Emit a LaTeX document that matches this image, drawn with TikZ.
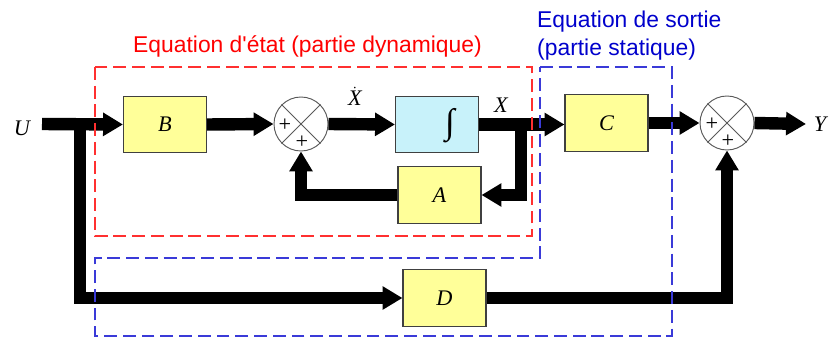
\documentclass[tikz,border=0pt]{standalone}
\usepackage{fontspec}
\setmainfont{Liberation Serif}
\newfontfamily\lsans{Liberation Sans}
\usetikzlibrary{arrows.meta}
\definecolor{boxyellow}{HTML}{FFFF99}
\definecolor{boxcyan}{HTML}{C8F2FA}
\definecolor{dashred}{HTML}{FF3030}
\definecolor{dashblue}{HTML}{3A3AD8}
\begin{document}
\begin{tikzpicture}[x=0.03cm,y=-0.03cm,
  blk/.style={draw=black!75, line width=0.9pt, fill=boxyellow, minimum width=2.49cm, minimum height=1.69cm, inner sep=0pt, font=\fontsize{19}{22}\selectfont\itshape},
  sumnode/.style={circle, draw=black!65, line width=0.8pt, fill=white, minimum size=1.62cm, inner sep=0pt},
  flow/.style={line width=10.6pt, line join=miter, -{Triangle[width=19pt,length=17pt]}},
  lbl/.style={font=\fontsize{19}{22}\selectfont\itshape, inner sep=0pt},
  pm/.style={font=\fontsize{19}{22}\selectfont, inner sep=0pt},
  zone/.style={line width=1.2pt, dash pattern=on 11pt off 5pt},
  zonetext/.style={font=\fontsize{19.5}{23}\selectfont\lsans, inner sep=0pt}]
\useasboundingbox (0,0) rectangle (829,338);
% blocks
\node[blk] (B) at (165,124.5) {B};
\node[blk, fill=boxcyan] (I) at (437,124.5) {};
\node[inner sep=0pt, font=\fontsize{30}{34}\selectfont] (int) at (450,126) {∫};
\node[blk] (C) at (606.5,123) {C};
\node[blk] (A) at (439.5,195) {A};
\node[blk] (D) at (444.5,298) {D};
% summing junctions
\node[sumnode] (s1) at (301,124) {};
\draw[black!65, line width=0.8pt] (s1.45) -- (s1.225) (s1.135) -- (s1.315);
\node[pm] (p1a) at (285,125) {+};
\node[pm] (p1b) at (302,142) {+};
\node[sumnode] (s2) at (727,123) {};
\draw[black!65, line width=0.8pt] (s2.45) -- (s2.225) (s2.135) -- (s2.315);
\node[pm] (p2a) at (712,124) {+};
\node[pm] (p2b) at (728,141) {+};
% signal labels
\node[lbl] (U) at (22,128) {U};
\node[lbl] (Y) at (820,124) {Y};
\node[lbl] (X) at (501,105) {X};
\node[lbl, anchor=base] (Xd) at (355,106) {$\dot{\hbox{\itshape X}}$};
% connectors
\coordinate (Uin) at (42,124);
\coordinate (Ub) at (80,124);
\coordinate (Xb) at (521,124);
\coordinate (Yout) at (806,124);
\draw[flow] (Uin) -- (B.west);
\draw[flow] (B.east) -- (s1.west);
\draw[flow] (s1.east) -- (I.west);
\draw[flow] (I.east) -- (I.east -| C.west);
\draw[flow] (Xb) |- (A.east);
\draw[flow] (A.west) -| (s1.south);
\draw[flow] (C.east) -- (s2.west);
\draw[flow] (s2.east) -- (Yout);
\draw[flow] (Ub) |- (D.west);
\draw[flow] (D.east) -| (s2.south);
% zones
\draw[zone, dashred] (95,67) rectangle (532,236);
\draw[zone, dashblue] (540,67) -- (672,67) -- (672,336) -- (95,336) -- (95,258) -- (540,258) -- cycle;
\node[zonetext, text=red, anchor=base west] (t1) at (133,53) {Equation d'état (partie dynamique)};
\node[zonetext, text=blue!80!black, anchor=base west] (t2) at (537,28) {Equation de sortie};
\node[zonetext, text=blue!80!black, anchor=base west] (t3) at (537,56) {(partie statique)};
\end{tikzpicture}
\end{document}
